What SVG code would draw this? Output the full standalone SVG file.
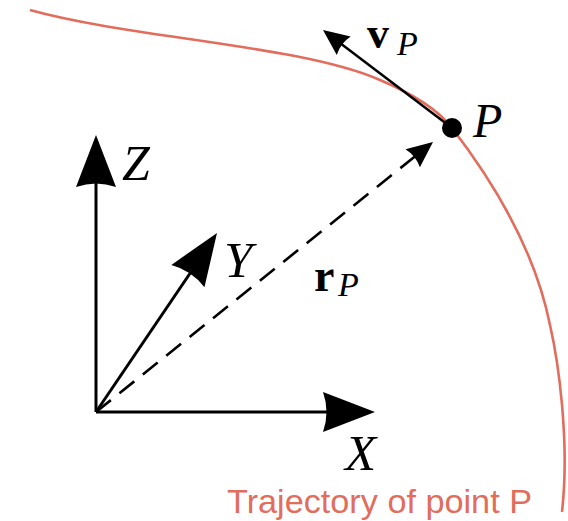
<svg xmlns="http://www.w3.org/2000/svg" xmlns:xlink="http://www.w3.org/1999/xlink" width="568" height="521" viewBox="0 0 568 521">
<style>
.axis{stroke:#000;stroke-width:3;fill:none}
.thin{stroke:#000;stroke-width:2.5;fill:none}
.dash{stroke:#000;stroke-width:2.6;fill:none;stroke-dasharray:19 11}
.traj{stroke:#E26D5C;stroke-width:2.6;fill:none}
.lbl{font-family:"Liberation Serif","DejaVu Serif",serif;font-style:italic;fill:#000}
.bold{font-family:"Liberation Serif","DejaVu Serif",serif;font-weight:bold;fill:#000}
.cap{font-family:"Liberation Sans",Arial,sans-serif;fill:#E26D5C}
</style>
<defs>
<path id="bigHead" d="M0,0 L-52,-20 Q-45,0 -52,20 Z" fill="#000"/>
<path id="smallHead" d="M0,0 L-26,-11.5 Q-22,0 -26,11.5 Z" fill="#000"/>
</defs>
<g id="trajectory">
<path class="traj" d="M30,10 C130,38 300,45 380,80 C420,97 440,112 452,128 C492,180 535,250 550,325 C558,360 570,440 562,512"/>
<text class="cap" x="227" y="513" font-size="33" textLength="305" lengthAdjust="spacingAndGlyphs">Trajectory of point P</text>
</g>
<g id="connectors">
<g id="z-axis">
<line class="axis" x1="96" y1="412" x2="96" y2="175"/>
<use xlink:href="#bigHead" transform="translate(96,135) rotate(-90)"/>
</g>
<g id="x-axis">
<line class="axis" x1="96" y1="412" x2="335" y2="412"/>
<use xlink:href="#bigHead" transform="translate(375,412)"/>
</g>
<g id="y-axis">
<line class="axis" x1="96" y1="412" x2="195" y2="266"/>
<use xlink:href="#bigHead" transform="translate(217,233) rotate(-55.95)"/>
</g>
<g id="r-vector">
<line class="dash" x1="96" y1="412" x2="418" y2="154"/>
<use xlink:href="#smallHead" transform="translate(433,142) rotate(-38.7)"/>
</g>
<g id="v-vector">
<line class="thin" x1="452" y1="128" x2="340" y2="43"/>
<use xlink:href="#smallHead" transform="translate(323,30) rotate(-142.8)"/>
</g>
</g>
<g id="point-P">
<circle cx="452" cy="128" r="10" fill="#000"/>
<text class="lbl" x="473" y="137" font-size="48">P</text>
</g>
<g id="labels">
<text class="lbl" x="122" y="180" font-size="50">Z</text>
<text class="lbl" x="224" y="277" font-size="51">Y</text>
<text class="lbl" x="345" y="470" font-size="51">X</text>
<text class="bold" x="367" y="48" font-size="44">v</text>
<text class="lbl" x="397" y="55" font-size="34">P</text>
<text class="bold" x="314" y="291" font-size="46">r</text>
<text class="lbl" x="338" y="296" font-size="34">P</text>
</g>
</svg>
